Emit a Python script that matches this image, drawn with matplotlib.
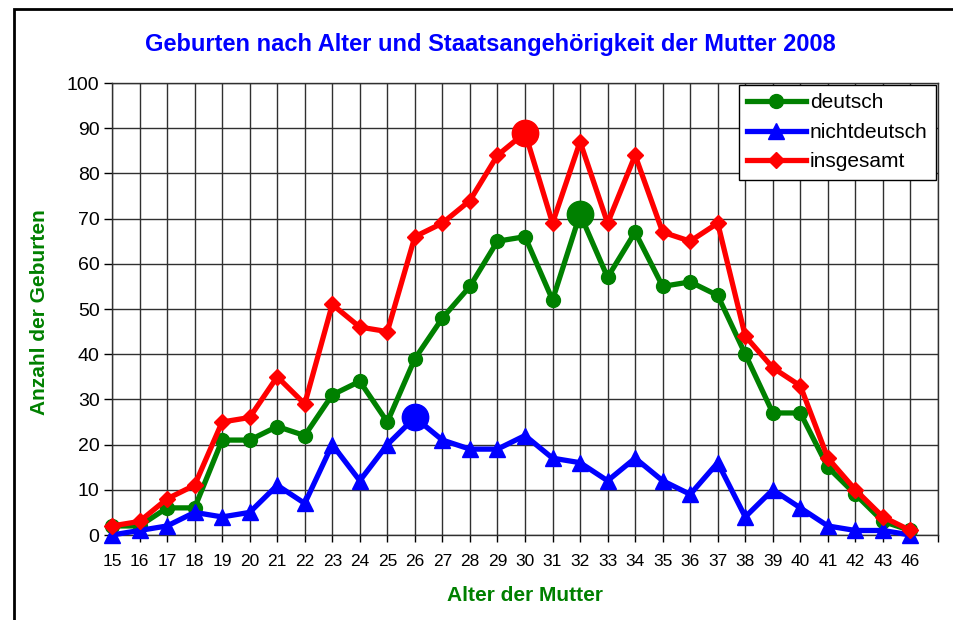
import matplotlib.pyplot as plt
from matplotlib.patches import Rectangle
import numpy as np

plt.rcParams['font.family'] = ['Liberation Sans', 'DejaVu Sans']

# Alter der Mutter (Kategorien)
ages = ['15', '16', '17', '18', '19', '20', '21', '22', '23', '24', '25', '26', '27', '28', '29',
        '30', '31', '32', '33', '34', '35', '36', '37', '38', '39', '40', '41', '42', '43', '46']
deutsch = [2, 2, 6, 6, 21, 21, 24, 22, 31, 34, 25, 39, 48, 55, 65,
           66, 52, 71, 57, 67, 55, 56, 53, 40, 27, 27, 15, 9, 3, 1]
nichtdeutsch = [0, 1, 2, 5, 4, 5, 11, 7, 20, 12, 20, 26, 21, 19, 19,
                22, 17, 16, 12, 17, 12, 9, 16, 4, 10, 6, 2, 1, 1, 0]
insgesamt = [2, 3, 8, 11, 25, 26, 35, 29, 51, 46, 45, 66, 69, 74, 84,
             89, 69, 87, 69, 84, 67, 65, 69, 44, 37, 33, 17, 10, 4, 1]

fig = plt.figure(figsize=(9.54, 6.2), dpi=100)
ax = fig.add_axes([112 / 954, 1 - 535 / 620, 826 / 954, 452 / 620])

# frame around the whole chart
fig.patches.append(Rectangle((14 / 954, -0.1), 1.2, 1 - 9 / 620 + 0.1, transform=fig.transFigure,
                             fill=False, edgecolor='black', linewidth=2))

x = np.arange(len(ages))
series = [(deutsch, 'deutsch', '#008000', 'o', 10),
          (nichtdeutsch, 'nichtdeutsch', '#0000ff', '^', 11),
          (insgesamt, 'insgesamt', '#ff0000', 'D', 8)]
for vals, label, color, marker, ms in series:
    ax.plot(x, vals, color=color, linewidth=3.8, marker=marker, markersize=ms,
            label=label, clip_on=False, zorder=3)
# largest value of each series gets a big dot
for vals, label, color, marker, ms in series:
    i = int(np.argmax(vals))
    ax.plot(x[i], vals[i], 'o', color=color, markersize=19, zorder=4)

ax.set_xlim(0, 30)
ax.set_ylim(0, 100)
ax.set_xticks(x)
ax.set_xticklabels(ages, fontsize=12.5)
ax.set_xticks(np.arange(0, 31), minor=True)
ax.set_yticks(np.arange(0, 101, 10))
ax.tick_params(axis='y', labelsize=14, length=6, width=1, direction='out', pad=3)
ax.tick_params(axis='x', which='both', length=5, width=1, direction='out', pad=9)
ax.grid(True, which='major', color='#303030', linewidth=1)
ax.grid(True, which='minor', axis='x', color='#303030', linewidth=1)
for s in ax.spines.values():
    s.set_color('#303030')
    s.set_linewidth(1)

fig.text(490 / 954, 1 - 45 / 620, 'Geburten nach Alter und Staatsangehörigkeit der Mutter 2008',
         ha='center', va='center', color='#0000ff', fontsize=17, fontweight='bold')
ax.set_xlabel('Alter der Mutter', color='#008000', fontsize=15, fontweight='bold', labelpad=12)
fig.text(40 / 954, 1 - 312 / 620, 'Anzahl der Geburten', rotation=90, ha='center', va='center',
         color='#008000', fontsize=15, fontweight='bold')

leg = ax.legend(loc='upper right', fontsize=15, frameon=True, fancybox=False, edgecolor='black',
                framealpha=1, borderaxespad=0.1, handlelength=2.8, handletextpad=0.2,
                labelspacing=0.5, borderpad=0.4)
leg.get_frame().set_linewidth(1)

fig.savefig('out.png', dpi=100)
